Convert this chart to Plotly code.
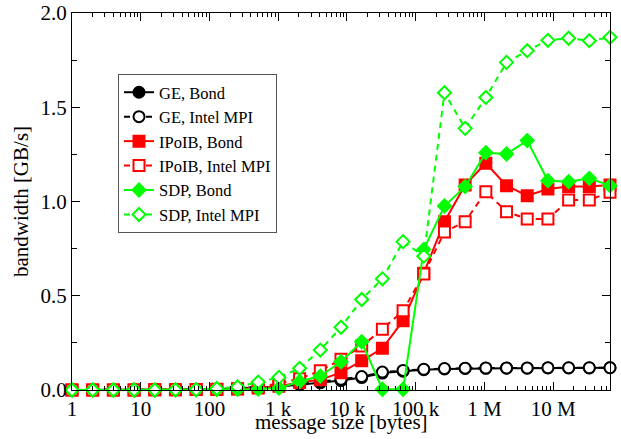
import math
import plotly.graph_objects as go

# ---- data ----
message_size = [1, 2, 4, 8, 16, 32, 64, 128, 256, 512, 1024, 2048, 4096, 8192,
                16384, 32768, 65536, 131072, 262144, 524288, 1048576, 2097152,
                4194304, 8388608, 16777216, 33554432, 67108864]

ge_bond = [0.0, 0.0, 0.0, 0.001, 0.001, 0.002, 0.003, 0.005, 0.008, 0.012, 0.018,
           0.028, 0.038, 0.050, 0.066, 0.090, 0.100, 0.108, 0.112, 0.114, 0.115,
           0.116, 0.116, 0.117, 0.117, 0.117, 0.118]
ge_mpi = [0.0, 0.0, 0.0, 0.001, 0.001, 0.002, 0.003, 0.005, 0.009, 0.014, 0.022,
          0.032, 0.044, 0.057, 0.071, 0.095, 0.104, 0.110, 0.114, 0.116, 0.117,
          0.117, 0.117, 0.118, 0.118, 0.118, 0.118]
ipoib_bond = [0.0, 0.0, 0.0, 0.0, 0.001, 0.001, 0.002, 0.003, 0.005, 0.010, 0.020,
              0.040, 0.055, 0.092, 0.155, 0.221, 0.368, 0.620, 0.893, 1.088, 1.203,
              1.084, 1.031, 1.066, 1.079, 1.079, 1.088]
ipoib_mpi = [0.0, 0.0, 0.0, 0.0, 0.001, 0.001, 0.002, 0.004, 0.007, 0.015, 0.035,
             0.060, 0.102, 0.163, 0.233, 0.322, 0.420, 0.615, 0.838, 0.893, 1.052,
             0.946, 0.907, 0.907, 1.008, 1.008, 1.049]
sdp_bond = [0.0, 0.0, 0.0, 0.0, 0.0, 0.001, 0.001, 0.002, 0.003, 0.005, 0.010,
            0.045, 0.074, 0.150, 0.256, 0.004, 0.004, 0.746, 0.976, 1.079, 1.259,
            1.252, 1.323, 1.110, 1.105, 1.123, 1.084]
sdp_mpi = [0.0, 0.0, 0.0, 0.0, 0.0, 0.001, 0.002, 0.008, 0.016, 0.042, 0.067,
           0.115, 0.212, 0.333, 0.480, 0.590, 0.787, 0.710, 1.577, 1.388, 1.552,
           1.738, 1.800, 1.855, 1.866, 1.853, 1.871]

x_tick_values = [1, 10, 100, 1e3, 1e4, 1e5, 1e6, 1e7]
x_tick_labels = ["1", "10", "100", "1 k", "10 k", "100 k", "1 M", "10 M"]
y_tick_values = [0.0, 0.5, 1.0, 1.5, 2.0]
y_tick_labels = ["0.0", "0.5", "1.0", "1.5", "2.0"]

series = [
    ("GE, Bond", ge_bond, "black", "circle", "solid", True),
    ("GE, Intel MPI", ge_mpi, "black", "circle", "dash", False),
    ("IPoIB, Bond", ipoib_bond, "#ff0000", "square", "solid", True),
    ("IPoIB, Intel MPI", ipoib_mpi, "#ff0000", "square", "dash", False),
    ("SDP, Bond", sdp_bond, "#00ff00", "diamond", "solid", True),
    ("SDP, Intel MPI", sdp_mpi, "#00ff00", "diamond", "dash", False),
]

FONT = "Liberation Serif, Times New Roman, serif"

W, H = 621, 439
L, R, T, B = 72, 11, 13, 49
plot_w = W - L - R
plot_h = H - T - B

fig = go.Figure()
for name, vals, col, sym, dash, filled in series:
    size = {"circle": 11, "square": 11, "diamond": 10}[sym]
    fig.add_trace(go.Scatter(
        x=message_size, y=vals, name=name, mode="lines+markers",
        line=dict(color=col, width=2, dash="6px,5px" if dash == "dash" else "solid"),
        marker=dict(symbol=sym, size=size,
                    color=col if filled else "white",
                    line=dict(color=col, width=2)),
        cliponaxis=False,
    ))

minor_x = [m * 10 ** d for d in range(0, 8) for m in range(2, 10) if m * 10 ** d <= message_size[-1]]

fig.update_layout(
    width=W, height=H,
    margin=dict(l=L, r=R, t=T, b=B, autoexpand=False),
    paper_bgcolor="white", plot_bgcolor="white",
    font=dict(family=FONT, size=21, color="black"),
    showlegend=True,
    legend=dict(
        x=(118 - L) / plot_w, y=(H - B - 74) / plot_h, xanchor="left", yanchor="top",
        bgcolor="white", bordercolor="#555555", borderwidth=1,
        font=dict(family=FONT, size=16.5, color="black"),
        tracegroupgap=0, itemwidth=30,
    ),
    hovermode=False,
    annotations=[dict(
        text="message size [bytes]", xref="paper", yref="paper",
        x=0.5, y=-(422 - (H - B)) / plot_h, xanchor="center", yanchor="middle",
        showarrow=False, font=dict(family=FONT, size=21),
    )],
)

fig.update_xaxes(
    type="log", range=[0, math.log10(message_size[-1])], automargin=False,
    showgrid=False, zeroline=False,
    showline=True, linecolor="black", linewidth=1, mirror="ticks",
    ticks="inside", ticklen=8, tickcolor="black", tickwidth=1,
    tickmode="array", tickvals=x_tick_values, ticktext=x_tick_labels,
    tickfont=dict(family=FONT, size=21), ticklabeloverflow="allow",
    minor=dict(ticks="inside", ticklen=4, tickcolor="black", tickwidth=1,
               tickmode="array", tickvals=minor_x, showgrid=False),
)
fig.update_yaxes(
    range=[0, 2.0], automargin=False,
    showgrid=False, zeroline=False,
    showline=True, linecolor="black", linewidth=1, mirror="ticks",
    ticks="inside", ticklen=8, tickcolor="black", tickwidth=1,
    tickmode="array", tickvals=y_tick_values, ticktext=y_tick_labels,
    tickfont=dict(family=FONT, size=21), ticklabeloverflow="allow",
    minor=dict(ticks="inside", ticklen=5, tickcolor="black", tickwidth=1,
               dtick=0.25, showgrid=False),
    title=dict(text="bandwidth [GB/s]", font=dict(family=FONT, size=21), standoff=6),
)

fig.write_html(
    "out.html",
    config={"displayModeBar": False},
    post_script="document.body.style.margin='0';document.body.style.overflow='hidden';",
)
